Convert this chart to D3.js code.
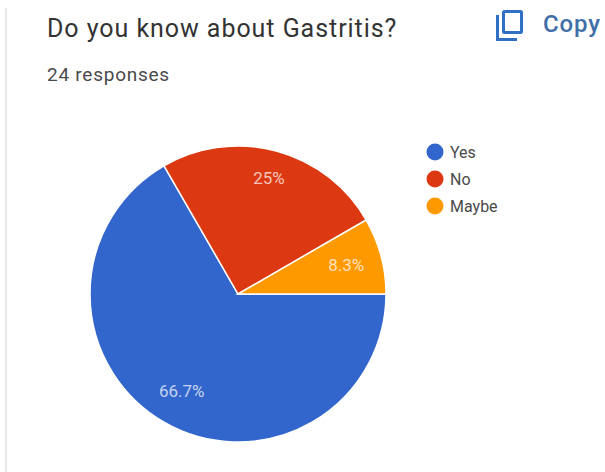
<!DOCTYPE html>
<html>
<head>
<meta charset="utf-8">
<script src="https://cdn.jsdelivr.net/npm/d3@7/dist/d3.min.js"></script>
<style>
  html, body { margin: 0; padding: 0; background: #fff; }
  svg { display: block; font-family: Roboto, "Noto Sans", sans-serif; }
</style>
</head>
<body>
<svg id="chart" width="605" height="472"></svg>
<script>
// Survey answers
const categories = ["Yes", "No", "Maybe"];
const responses = [16, 6, 2];
const percentLabels = ["66.7%", "25%", "8.3%"];
const sliceColors = ["#3366cc", "#dc3912", "#ff9900"];
const questionTitle = "Do you know about Gastritis?";
const responseCount = "24 responses";

const svg = d3.select("#chart");

// Card edge on the left
svg.append("rect")
  .attr("x", 5).attr("y", 8).attr("width", 2).attr("height", 464)
  .attr("fill", "#e8e8e8");

// Heading
svg.append("text")
  .attr("x", 47).attr("y", 37)
  .attr("font-size", 25).attr("letter-spacing", 0.95).attr("fill", "#333")
  .text(questionTitle);

svg.append("text")
  .attr("x", 47).attr("y", 81)
  .attr("font-size", 19).attr("letter-spacing", 0.75).attr("fill", "#4a4a4a")
  .text(responseCount);

// Copy button
const copyBlue = "#2f6fc4";
const copy = svg.append("g")
  .attr("fill", "none").attr("stroke", copyBlue).attr("stroke-width", 3);
copy.append("rect")
  .attr("x", 503.5).attr("y", 11.5).attr("width", 18).attr("height", 21).attr("rx", 1);
copy.append("path")
  .attr("d", "M497.5 15V39.5H517");
svg.append("text")
  .attr("x", 543).attr("y", 32)
  .attr("font-size", 24).attr("font-weight", 500).attr("letter-spacing", 0.9).attr("fill", "#3f6fa8")
  .text("Copy");

// Pie, running clockwise from three o'clock
const center = [238, 294];
const radius = 148;
const pie = d3.pie()
  .sort(null)
  .startAngle(Math.PI / 2)
  .endAngle(Math.PI / 2 + 2 * Math.PI);
const arc = d3.arc().innerRadius(0).outerRadius(radius);

const arcs = pie(responses);
const plot = svg.append("g").attr("transform", `translate(${center})`);

plot.selectAll("path")
  .data(arcs)
  .join("path")
  .attr("d", arc)
  .attr("fill", (d, i) => sliceColors[i])
  .attr("stroke", "#fff")
  .attr("stroke-width", 1.5);

// Percentage labels, placed along each slice's mid-angle
const labelRadii = [0.76, 0.81, 0.757];
plot.selectAll("text")
  .data(arcs)
  .join("text")
  .attr("transform", (d, i) => {
    const mid = (d.startAngle + d.endAngle) / 2;
    const r = radius * labelRadii[i];
    return `translate(${r * Math.sin(mid)},${-r * Math.cos(mid)})`;
  })
  .attr("text-anchor", "middle")
  .attr("dy", "0.35em")
  .attr("font-size", 17)
  .attr("fill", "#fff")
  .attr("fill-opacity", 0.72)
  .text((d, i) => percentLabels[i]);

// Legend
const legendY = d3.scalePoint().domain(categories).range([152, 206]);
const legend = svg.append("g");
legend.selectAll("circle")
  .data(categories)
  .join("circle")
  .attr("cx", 435)
  .attr("cy", d => legendY(d))
  .attr("r", 8.5)
  .attr("fill", (d, i) => sliceColors[i]);
legend.selectAll("text")
  .data(categories)
  .join("text")
  .attr("x", 450)
  .attr("y", d => legendY(d))
  .attr("dy", "0.35em")
  .attr("font-size", 16)
  .attr("fill", "#4a4a4a")
  .text(d => d);
</script>
</body>
</html>
